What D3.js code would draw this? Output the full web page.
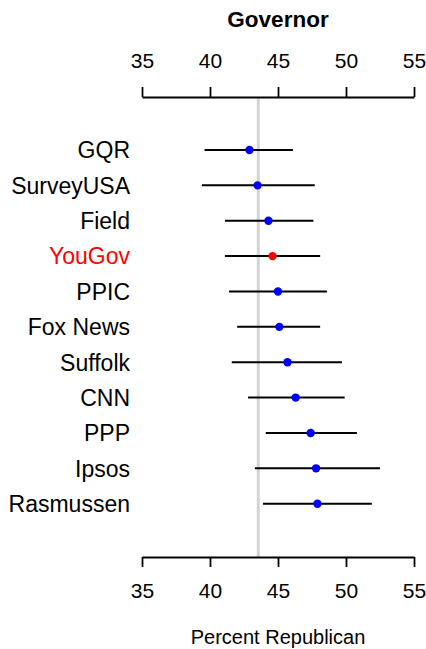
<!DOCTYPE html>
<meta charset="utf-8">
<style>
body { margin: 0; background: #fff; }
svg { font-family: "Liberation Sans", Arial, Helvetica, sans-serif; }
.axis path, .axis line { stroke: #000; stroke-width: 1.8px; }
.axis text { font-size: 21px; fill: #000; }
</style>
<body>
<script src="https://d3js.org/d3.v7.min.js"></script>
<script>

// pollsters, top to bottom
var pollsters = ["GQR", "SurveyUSA", "Field", "YouGov", "PPIC", "Fox News",
                 "Suffolk", "CNN", "PPP", "Ipsos", "Rasmussen"];
// estimate and interval ends (percent Republican)
var estimate = [42.9, 43.5, 44.3, 44.6, 45.0, 45.1, 45.7, 46.3, 47.4, 47.8, 47.9];
var lower    = [39.6, 39.4, 41.1, 41.1, 41.4, 42.0, 41.6, 42.8, 44.1, 43.3, 43.9];
var upper    = [46.1, 47.7, 47.6, 48.1, 48.6, 48.1, 49.7, 49.9, 50.8, 52.5, 51.9];
var highlight = "YouGov";
var reference = 43.55;
var ticks = [35, 40, 45, 50, 55];

var width = 426, height = 649;

var svg = d3.select("body").append("svg")
    .attr("width", width)
    .attr("height", height);

var x = d3.scaleLinear().domain([35, 55]).range([142, 414]);
var y = d3.scalePoint().domain(pollsters).range([150, 503.7]);
var axisTopY = 97, axisBottomY = 557;

// reference line
svg.append("line")
    .attr("x1", x(reference)).attr("x2", x(reference))
    .attr("y1", axisTopY).attr("y2", axisBottomY)
    .attr("stroke", "#d3d3d3")
    .attr("stroke-width", 3);

// axes
svg.append("g")
    .attr("class", "axis")
    .attr("transform", "translate(0," + axisTopY + ")")
    .call(d3.axisTop(x).tickValues(ticks).tickSize(10).tickSizeOuter(0).tickPadding(19));

svg.append("g")
    .attr("class", "axis")
    .attr("transform", "translate(0," + axisBottomY + ")")
    .call(d3.axisBottom(x).tickValues(ticks).tickSize(10).tickSizeOuter(0).tickPadding(16));

var rows = pollsters.map(function(p, i) {
  return {name: p, est: estimate[i], lo: lower[i], hi: upper[i]};
});

// intervals
svg.selectAll(".ci")
    .data(rows).enter()
  .append("line")
    .attr("class", "ci")
    .attr("x1", function(d) { return x(d.lo); })
    .attr("x2", function(d) { return x(d.hi); })
    .attr("y1", function(d) { return y(d.name); })
    .attr("y2", function(d) { return y(d.name); })
    .attr("stroke", "#000")
    .attr("stroke-width", 2);

// points
svg.selectAll(".pt")
    .data(rows).enter()
  .append("circle")
    .attr("class", "pt")
    .attr("cx", function(d) { return x(d.est); })
    .attr("cy", function(d) { return y(d.name); })
    .attr("r", 4.2)
    .attr("fill", function(d) { return d.name == highlight ? "#ff0000" : "#0000ff"; });

// pollster labels
svg.selectAll(".lab")
    .data(rows).enter()
  .append("text")
    .attr("class", "lab")
    .attr("x", 130)
    .attr("y", function(d) { return y(d.name); })
    .attr("dy", "0.36em")
    .attr("text-anchor", "end")
    .style("font-size", "23px")
    .attr("fill", function(d) { return d.name == highlight ? "#ff0000" : "#000"; })
    .text(function(d) { return d.name; });

// title
svg.append("text")
    .attr("x", x(45))
    .attr("y", 27)
    .attr("text-anchor", "middle")
    .style("font-size", "22.5px")
    .style("font-weight", "bold")
    .text("Governor");

// x label
svg.append("text")
    .attr("x", x(45))
    .attr("y", 644)
    .attr("text-anchor", "middle")
    .style("font-size", "20px")
    .text("Percent Republican");

</script>
</body>
